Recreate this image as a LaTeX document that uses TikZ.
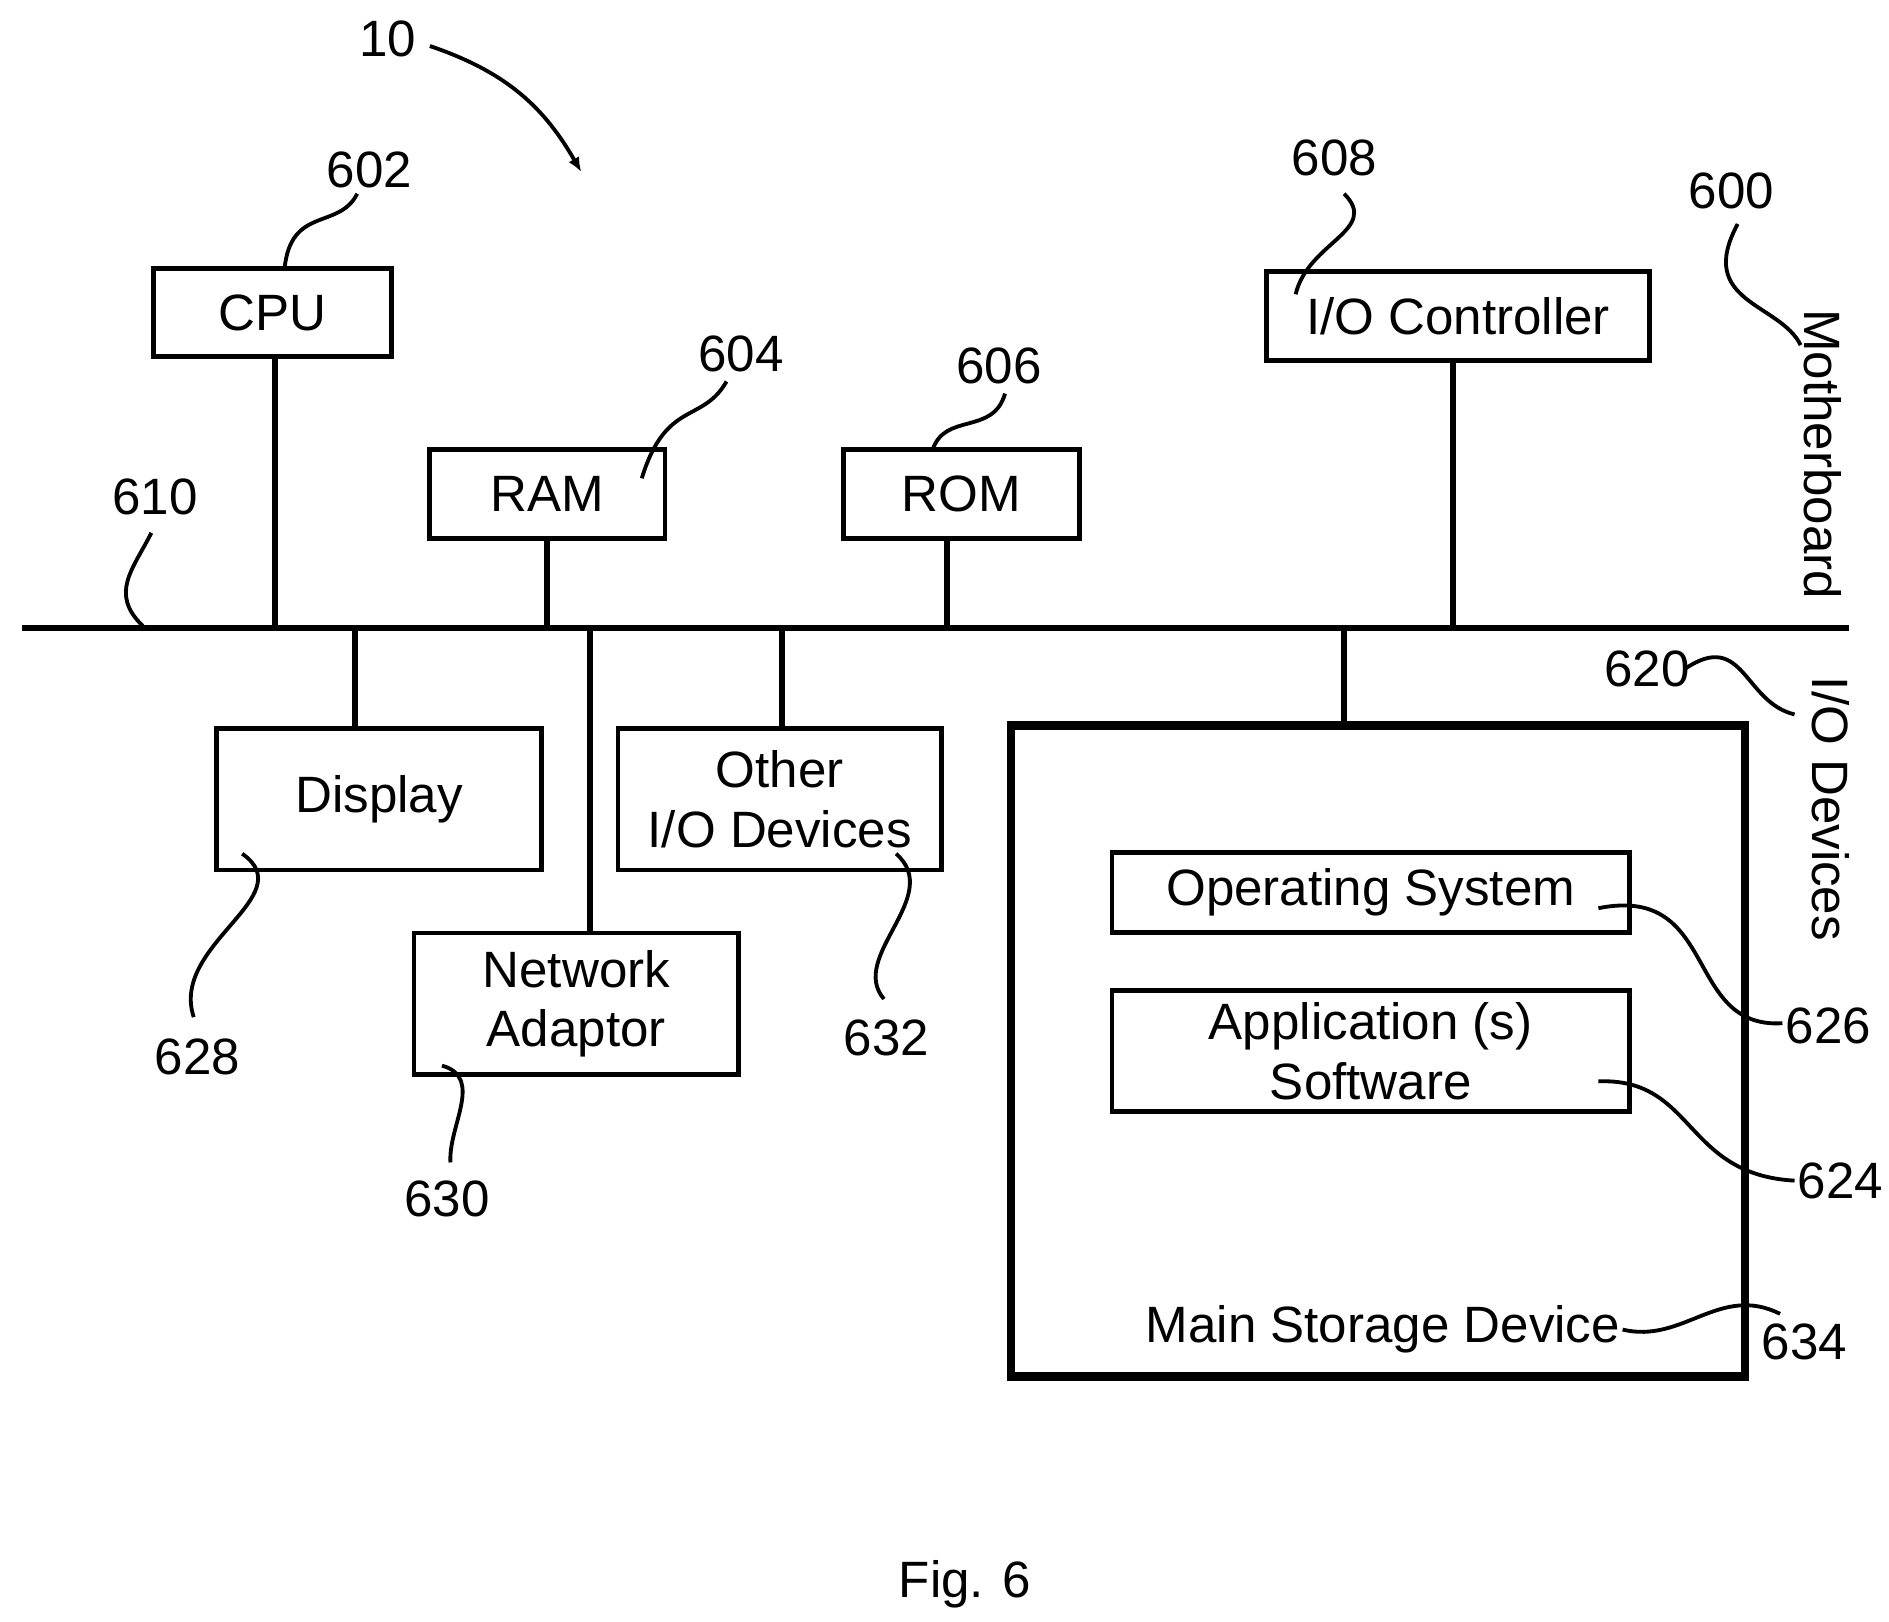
\documentclass[tikz,border=0pt]{standalone}
\usepackage{fontspec}
\usetikzlibrary{arrows.meta}
\setmainfont{Liberation Sans}
\begin{document}
\begin{tikzpicture}[x=0.01cm,y=-0.01cm,
 box/.style={draw,line width=1.1pt,inner sep=0pt},
 t/.style={font=\fontsize{12}{14}\selectfont,align=center},
 num/.style={font=\fontsize{12}{14}\selectfont},
 ld/.style={line width=0.9pt},
 ln/.style={line width=1.4pt}]
\useasboundingbox (0,0) rectangle (1560,1339);
% boxes
\node[box,minimum width=1.96cm,minimum height=0.73cm] (cpu) at (225,258) {};
\node[t] at (cpu) {CPU};
\node[box,minimum width=1.94cm,minimum height=0.73cm] (ram) at (452,408) {};
\node[t] at (ram) {RAM};
\node[box,minimum width=1.95cm,minimum height=0.73cm] (rom) at (794,408) {};
\node[t] at (rom) {ROM};
\node[box,minimum width=3.16cm,minimum height=0.73cm] (ioc) at (1204,261) {};
\node[t] at (ioc) {I/O Controller};
\node[box,minimum width=2.68cm,minimum height=1.17cm] (disp) at (313,660) {};
\node[t] at (disp) {Display};
\node[box,minimum width=2.68cm,minimum height=1.17cm] (net) at (476,829) {};
\node[t] at (net) {Network\\Adaptor};
\node[box,minimum width=2.67cm,minimum height=1.17cm] (oth) at (644,660) {};
\node[t] at (oth) {Other\\I/O Devices};
\node[draw,line width=2pt,minimum width=6.06cm,minimum height=5.37cm,inner sep=0pt] (msd) at (1138,868) {};
\node[box,minimum width=4.27cm,minimum height=0.66cm] (os) at (1132,737) {};
\node[t] at (os) {Operating System};
\node[box,minimum width=4.27cm,minimum height=1.0cm] (app) at (1132,868) {};
\node[t] at (app) {Application (s)\\Software};
\node[t] (msdl) at (1142,1098) {Main Storage Device};
% bus
\coordinate (bl) at (18,519); \coordinate (br) at (1527,519);
\draw[ln] (bl) -- (br);
\draw[ln] (227,295) -- (227,519);
\draw[ln] (ram.south) -- (452,519);
\draw[ln] (782,445) -- (782,519);
\draw[ln] (1200,298) -- (1200,519);
\draw[ln] (293,519) -- (293,602);
\draw[ln] (487,519) -- (487,771);
\draw[ln] (646,519) -- (646,602);
\draw[ln] (1110,519) -- (1110,600);
% labels
\node[num] (n10) at (320,32) {10};
\draw[ld,-{Latex[length=0.12cm,width=0.1cm]}] (355,38) .. controls (420,60) and (450,90) .. (480,142);
\node[num] (n602) at (305,140) {602};
\draw[ld] (295,160) .. controls (280,190) and (240,170) .. (235,222);
\node[num] (n604) at (612,292) {604};
\draw[ld] (600,315) .. controls (580,350) and (550,330) .. (530,395);
\node[num] (n606) at (825,302) {606};
\draw[ld] (830,325) .. controls (820,360) and (780,340) .. (770,372);
\node[num] (n608) at (1102,130) {608};
\draw[ld] (1110,160) .. controls (1140,190) and (1080,200) .. (1070,243);
\node[num] (n600) at (1430,158) {600};
\draw[ld] (1435,185) .. controls (1400,250) and (1470,250) .. (1487,285);
\node[num,rotate=-90] at (1505,375) {Motherboard};
\node[num] (n610) at (128,410) {610};
\draw[ld] (125,440) .. controls (110,470) and (90,490) .. (118,517);
\node[num] (n620) at (1360,552) {620};
\draw[ld] (1392,552) .. controls (1440,520) and (1440,580) .. (1482,590);
\node[num,rotate=-90] at (1512,668) {I/O Devices};
\node[num] (n626) at (1510,847) {626};
\draw[ld] (1320,750) .. controls (1420,730) and (1390,850) .. (1472,845);
\node[num] (n624) at (1520,975) {624};
\draw[ld] (1320,893) .. controls (1400,890) and (1390,970) .. (1482,975);
\node[num] (n634) at (1490,1108) {634};
\draw[ld] (1340,1098) .. controls (1390,1110) and (1420,1060) .. (1470,1085);
\node[num] (n628) at (163,873) {628};
\draw[ld] (200,705) .. controls (250,740) and (140,780) .. (160,840);
\node[num] (n630) at (369,990) {630};
\draw[ld] (365,880) .. controls (400,890) and (370,930) .. (372,960);
\node[num] (n632) at (732,857) {632};
\draw[ld] (740,705) .. controls (780,740) and (700,790) .. (730,825);
\node[num] at (797,1308) {Fig. 6};
\end{tikzpicture}
\end{document}
